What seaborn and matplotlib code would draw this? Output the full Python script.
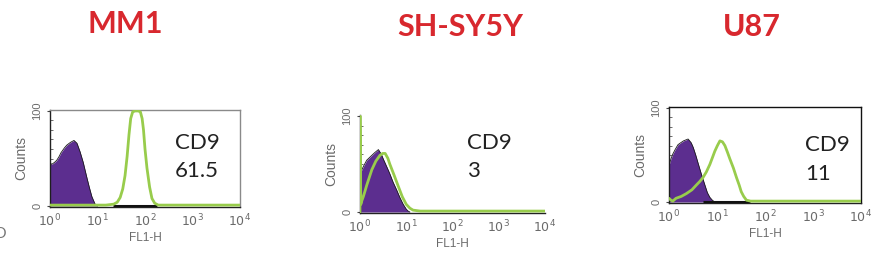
import matplotlib
matplotlib.use("Agg")
import matplotlib.pyplot as plt
import seaborn as sns
import numpy as np
from matplotlib.ticker import LogLocator, NullFormatter, MultipleLocator

# ---------------- data ----------------
cell_lines = ["MM1", "SH-SY5Y", "U87"]
marker = "CD9"
cd9_values = ["61.5", "3", "11"]

# isotype / negative control (purple filled histograms)
mm1_neg_x = [1.0, 1.0, 1.1, 1.25, 1.38, 1.55, 1.7, 2.0, 2.25, 2.7, 3.2, 3.7, 4.3, 5.0, 5.9, 6.7, 7.6, 8.9, 10.0]
mm1_neg_y = [0, 45, 44, 46, 48, 52, 56, 61, 64, 67, 69, 66, 57, 46, 31, 20, 10, 2, 0]
sh_neg_x = [1.0, 1.0, 1.2, 1.4, 1.8, 2.1, 2.5, 2.9, 3.2, 3.8, 4.4, 5.2, 6.2, 7.3, 8.6, 10.0, 11.0, 12.0]
sh_neg_y = [0, 40, 48, 54, 59, 62, 65, 60, 55, 47, 40, 31, 23, 15, 8, 3, 1, 0]
u87_neg_x = [1.0, 1.0, 1.1, 1.2, 1.35, 1.54, 1.75, 2.0, 2.5, 2.9, 3.2, 3.6, 4.0, 4.7, 5.6, 6.3, 7.1, 8.0, 9.0]
u87_neg_y = [0, 39, 46, 51, 56, 61, 63, 65, 67, 63, 58, 50, 42, 30, 18, 10, 5, 2, 0]

# CD9 stained (green outline histograms)
mm1_cd9_x = [1, 5, 15, 22, 26, 30, 34, 38, 42, 46, 50, 55, 62, 72, 80, 87, 93, 100, 110, 125, 140, 160, 190, 300, 1000, 3000, 10000]
mm1_cd9_y = [1, 1, 1, 2, 4, 9, 18, 32, 52, 75, 92, 99, 100, 100, 99, 92, 80, 60, 40, 20, 8, 3, 1, 1, 1, 1, 1]
sh_cd9_x = [1.0, 1.0, 1.04, 1.1, 1.18, 1.4, 1.8, 2.2, 2.7, 3.1, 3.5, 4.0, 4.4, 5.5, 6.7, 8.2, 10, 12, 14, 20, 100, 1000, 10000]
sh_cd9_y = [0, 100, 8, 12, 16, 28, 44, 53, 59, 61, 61, 56, 50, 38, 27, 16, 8, 4, 2, 1, 1, 1, 1]
u87_cd9_x = [1.0, 1.1, 1.2, 1.4, 1.8, 2.3, 3.0, 3.7, 4.4, 5.1, 6.0, 7.1, 8.0, 9.0, 10.2, 11.5, 13.0, 14.6, 16.5, 18.5, 22, 25.5, 29, 32, 36, 41, 50, 57, 100, 1000, 10000]
u87_cd9_y = [4, 2, 1, 4, 6, 9, 13, 18, 22, 26, 32, 40, 47, 54, 60, 65, 64, 60, 53, 46, 36, 26, 18, 11, 6, 2, 1, 1, 1, 1, 1]

# gate bars drawn along the baseline (start, end on FL1-H); None = no bar visible
mm1_gate = [21, 178]
sh_gate = None
u87_gate = [5, 49]

xtick_vals = [1, 10, 100, 1000, 10000]
xtick_labels = ["$10^{0}$", "$10^{1}$", "$10^{2}$", "$10^{3}$", "$10^{4}$"]
ytick_vals = [0, 100]
ytick_labels = ["0", "100"]

# ---------------- style ----------------
sns.set_style("white")
plt.rcParams["font.family"] = ["Lato", "DejaVu Sans"]
plt.rcParams["mathtext.fontset"] = "custom"
plt.rcParams["mathtext.rm"] = "Liberation Sans Narrow"
plt.rcParams["mathtext.it"] = "Liberation Sans Narrow"

PURPLE = "#5c2e8f"
GREEN = "#98cc4c"
RED = "#d8282e"
GRAY = "#6a6a6a"
AXFONT = ["Liberation Sans Narrow", "Liberation Sans", "DejaVu Sans"]

W, H = 878, 266
fig = plt.figure(figsize=(W / 100, H / 100), dpi=100)

def px_axes(left, top, right, bottom):
    return fig.add_axes([left / W, 1 - bottom / H, (right - left) / W, (bottom - top) / H])

panels = [
    dict(box=(50, 110, 240, 207), neg=(mm1_neg_x, mm1_neg_y), pos=(mm1_cd9_x, mm1_cd9_y), gate=mm1_gate,
         frame="gray", title=(125, 24), text=(175, 143, 171)),
    dict(box=(360, 115, 545, 213), neg=(sh_neg_x, sh_neg_y), pos=(sh_cd9_x, sh_cd9_y), gate=sh_gate,
         frame=None, title=(460, 27), text=(467, 143, 171)),
    dict(box=(669, 107, 861, 203), neg=(u87_neg_x, u87_neg_y), pos=(u87_cd9_x, u87_cd9_y), gate=u87_gate,
         frame="black", title=(752, 27), text=(805, 145, 174)),
]

for i, p in enumerate(panels):
    ax = px_axes(*p["box"])
    nx, ny = p["neg"]
    ax.fill_between(nx, ny, 0, color=PURPLE, lw=0, zorder=2)
    sns.lineplot(x=nx, y=ny, ax=ax, color="#1a1a1a", lw=0.6, sort=False, estimator=None, zorder=3)
    if p["gate"] is not None:
        ax.hlines(0, p["gate"][0], p["gate"][1], color="#111", lw=2.2, zorder=3)
    gx, gy = p["pos"]
    sns.lineplot(x=gx, y=gy, ax=ax, color=GREEN, lw=2.0, sort=False, estimator=None, zorder=4)

    ax.set_xscale("log")
    ax.set_xlim(1, 10000)
    ax.set_ylim(-1, 101)
    ax.set_xticks(xtick_vals)
    ax.set_xticklabels(xtick_labels, fontsize=9, color=GRAY)
    ax.xaxis.set_minor_locator(LogLocator(base=10, subs=np.arange(2, 10)))
    ax.xaxis.set_minor_formatter(NullFormatter())
    ax.tick_params(axis="x", which="major", direction="in", length=3, width=0.8, color="#444", pad=4)
    ax.tick_params(axis="x", which="minor", direction="in", length=2, width=0.6, color="#555", bottom=True)
    ax.set_yticks(ytick_vals)
    ax.set_yticklabels(ytick_labels, fontsize=8, color=GRAY, rotation=90, va="center", family=AXFONT)
    ax.yaxis.set_minor_locator(MultipleLocator(10))
    ax.tick_params(axis="y", which="major", direction="out", length=2.5, width=0.8, color="#444", pad=3, left=True)
    ax.tick_params(axis="y", which="minor", direction="in", length=2, width=0.6, color="#555", left=True)
    ax.set_xlabel("FL1-H", fontsize=8.5, color=GRAY, labelpad=2, family=AXFONT)
    ax.set_ylabel("Counts", fontsize=10, color=GRAY, labelpad=3, family=AXFONT)
    ax.grid(False)

    for s in ["left", "bottom"]:
        ax.spines[s].set_color("#222")
        ax.spines[s].set_linewidth(1.0)
    if p["frame"] is None:
        ax.spines["top"].set_visible(False)
        ax.spines["right"].set_visible(False)
    else:
        c = "#8a8a8a" if p["frame"] == "gray" else "#111"
        for s in ["top", "right"]:
            ax.spines[s].set_color(c)
            ax.spines[s].set_linewidth(1.0)

    tx, ty = p["title"]
    fig.text(tx / W, 1 - ty / H, cell_lines[i], color=RED, fontsize=22, fontweight="bold",
             ha="center", va="center")
    lx, y1, y2 = p["text"]
    fig.text(lx / W, 1 - y1 / H, marker, fontsize=16, color="#222", ha="left", va="center")
    fig.text(lx / W, 1 - y2 / H, cd9_values[i], fontsize=16, color="#222", ha="left", va="center")

# letter cropped at the left edge, as in the source image
fig.text(-0.006, 1 - 234 / H, "D", fontsize=11, color="#777", ha="left", va="center")

fig.savefig("out.png", dpi=100, facecolor="white")
